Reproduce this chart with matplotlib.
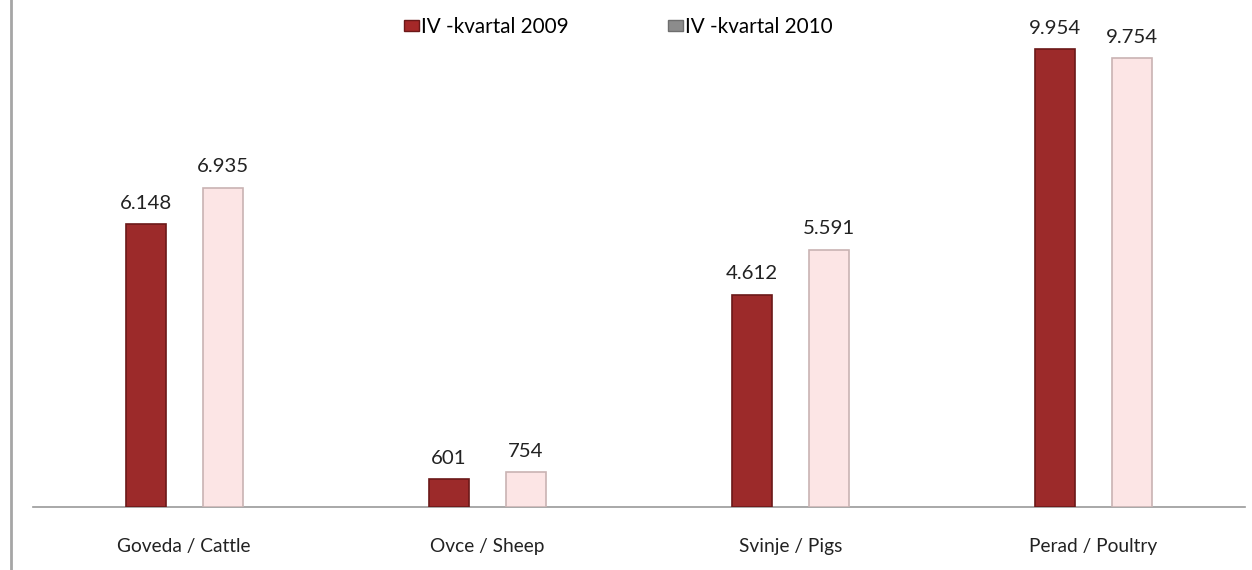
import matplotlib
matplotlib.use("Agg")
import matplotlib.pyplot as plt
import matplotlib.patches as mpatches
from matplotlib.lines import Line2D
import numpy as np

plt.rcParams['font.family'] = ['Lato', 'DejaVu Sans']

# --- Dados ---
categorias = ["Goveda / Cattle", "Ovce / Sheep", "Svinje / Pigs", "Perad / Poultry"]
valores_2009 = [6148, 601, 4612, 9954]
valores_2010 = [6935, 754, 5591, 9754]
series = ["IV -kvartal 2009", "IV -kvartal 2010"]


def fmt(v):
    return f"{v:,}".replace(",", ".")


fig = plt.figure(figsize=(12.52, 5.70), dpi=100)
ax = fig.add_axes([32.5 / 1252, 63 / 570, 1212.5 / 1252, 507 / 570])

x = np.arange(len(categorias))
largura = 0.132
desloc = 0.127

b1 = ax.bar(x - desloc, valores_2009, width=largura, color="#9c2a2a",
            edgecolor="#6b1818", linewidth=1.2, zorder=3)
b2 = ax.bar(x + desloc, valores_2010, width=largura, color="#fce5e5",
            edgecolor="#c9b3b3", linewidth=1.2, zorder=3)

for barras in (b1, b2):
    for r in barras:
        ax.annotate(fmt(int(r.get_height())),
                    (r.get_x() + r.get_width() / 2, r.get_height()),
                    xytext=(0, 9), textcoords="offset points",
                    ha="center", va="bottom", fontsize=14.7, color="#222222")

ax.set_xlim(-0.5, len(categorias) - 0.5)
ax.set_ylim(0, 9954 * 507 / 458)
ax.set_xticks(x)
ax.set_xticklabels(categorias, fontsize=13.8, color="#222222")
ax.tick_params(axis="x", length=0, pad=22)
ax.set_yticks([])
for s in ["top", "left", "right"]:
    ax.spines[s].set_visible(False)
ax.spines["bottom"].set_color("#999999")
ax.spines["bottom"].set_linewidth(1.2)

# borda esquerda do gráfico
fig.add_artist(Line2D([11 / 1252, 11 / 1252], [0, 1], color="#a6a6a6",
                      linewidth=2, transform=fig.transFigure))

handles = [mpatches.Patch(facecolor="#a52828", edgecolor="#6b1818"),
           mpatches.Patch(facecolor="#8c8c8c", edgecolor="#6e6e6e")]
fig.legend(handles, series, loc="center", bbox_to_anchor=(0.494, 1 - 27 / 570),
           ncol=2, frameon=False, fontsize=14.9, handlelength=0.7,
           handleheight=0.45, handletextpad=0.12, columnspacing=4.8)

fig.savefig("out.png", dpi=100)
